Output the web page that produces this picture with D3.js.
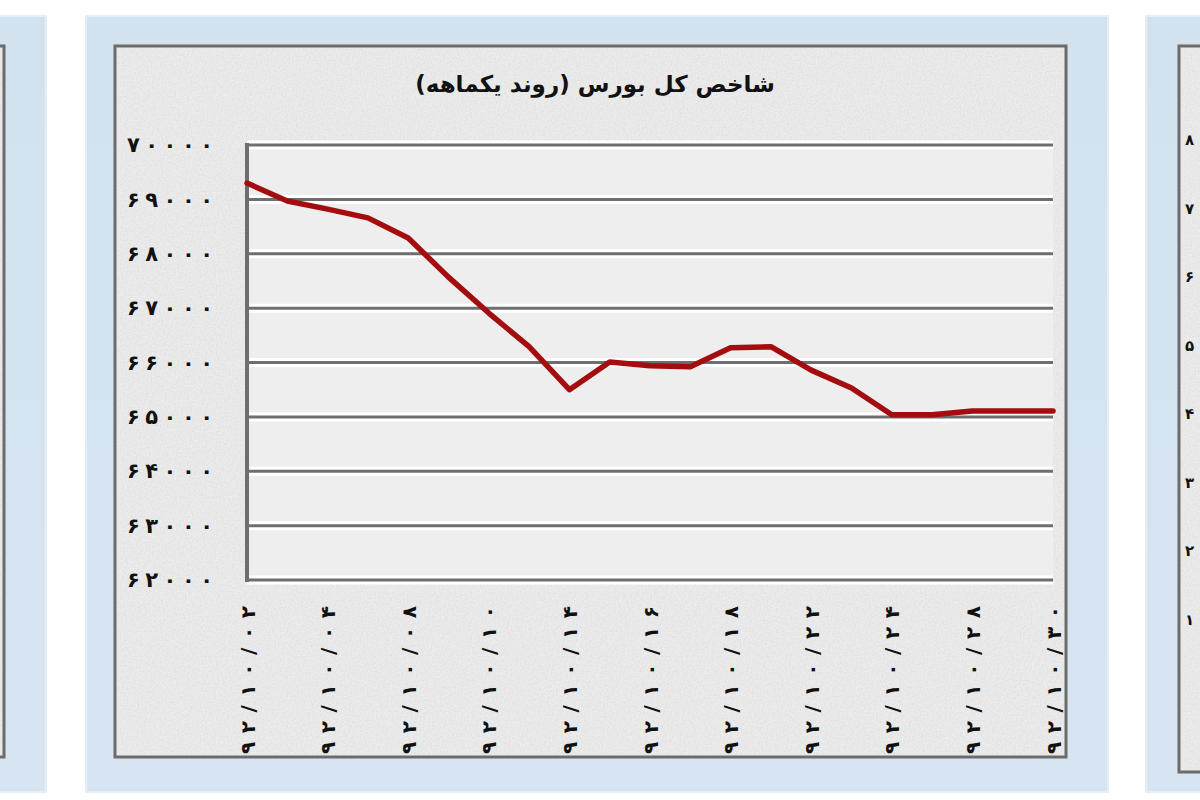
<!DOCTYPE html>
<html>
<head>
<meta charset="utf-8">
<script src="https://cdn.jsdelivr.net/npm/d3@7"></script>
<style>
  html, body { margin: 0; padding: 0; background: #ffffff; }
  svg { display: block; }
</style>
</head>
<body>
<svg id="chart" width="1200" height="800"></svg>
<script>
// ---- data ----
const title = "شاخص کل بورس (روند یکماهه)";
const categories = [
  "۹۲/۱۰/۰۲", "۹۲/۱۰/۰۳", "۹۲/۱۰/۰۴", "۹۲/۱۰/۰۷", "۹۲/۱۰/۰۸", "۹۲/۱۰/۰۹", "۹۲/۱۰/۱۰",
  "۹۲/۱۰/۱۱", "۹۲/۱۰/۱۴", "۹۲/۱۰/۱۵", "۹۲/۱۰/۱۶", "۹۲/۱۰/۱۷", "۹۲/۱۰/۱۸", "۹۲/۱۰/۲۱",
  "۹۲/۱۰/۲۲", "۹۲/۱۰/۲۳", "۹۲/۱۰/۲۴", "۹۲/۱۰/۲۵", "۹۲/۱۰/۲۸", "۹۲/۱۰/۲۹", "۹۲/۱۰/۳۰"
];
const indexValues = [
  69300, 68970, 68820, 68660, 68290, 67570, 66910,
  66290, 65500, 66010, 65940, 65920, 66270, 66290,
  65860, 65530, 65040, 65040, 65110, 65110, 65110
];
const xTickLabels = [
  "۹۲/۱۰/۰۲", "۹۲/۱۰/۰۴", "۹۲/۱۰/۰۸", "۹۲/۱۰/۱۰", "۹۲/۱۰/۱۴", "۹۲/۱۰/۱۶",
  "۹۲/۱۰/۱۸", "۹۲/۱۰/۲۲", "۹۲/۱۰/۲۴", "۹۲/۱۰/۲۸", "۹۲/۱۰/۳۰"
];
const yTicks = [70000, 69000, 68000, 67000, 66000, 65000, 64000, 63000, 62000];
const yTickLabels = ["۷۰۰۰۰", "۶۹۰۰۰", "۶۸۰۰۰", "۶۷۰۰۰", "۶۶۰۰۰", "۶۵۰۰۰", "۶۴۰۰۰", "۶۳۰۰۰", "۶۲۰۰۰"];
// neighbouring (cut-off) panel on the right: first visible digit of its labels
const rightPanelLabels = ["۸", "۷", "۶", "۵", "۴", "۳", "۲", "۱"];

// ---- drawing ----
const svg = d3.select("#chart");
const FONT = "'DejaVu Sans', sans-serif";

const defs = svg.append("defs");
const noise = defs.append("filter").attr("id", "grain").attr("x", 0).attr("y", 0).attr("width", 1).attr("height", 1);
noise.append("feTurbulence").attr("type", "fractalNoise").attr("baseFrequency", 0.55).attr("numOctaves", 2).attr("seed", 4).attr("result", "t");
noise.append("feColorMatrix").attr("in", "t").attr("type", "matrix")
  .attr("values", "0 0 0 0 0.55  0 0 0 0 0.55  0 0 0 0 0.55  0 0 0 -1.6 1.05").attr("result", "n");
noise.append("feComposite").attr("in", "n").attr("in2", "SourceGraphic").attr("operator", "in");

const blueGrad = defs.append("linearGradient").attr("id", "blueFrame").attr("x1", 0).attr("x2", 0).attr("y1", 0).attr("y2", 1);
blueGrad.append("stop").attr("offset", "0%").attr("stop-color", "#d3e2ef");
blueGrad.append("stop").attr("offset", "100%").attr("stop-color", "#d6e5f1");

function panel(x0, x1, y0, y1, ix0, ix1, iy0, iy1) {
  svg.append("rect").attr("x", x0).attr("y", y0).attr("width", x1 - x0).attr("height", y1 - y0)
    .attr("fill", "url(#blueFrame)").attr("stroke", "#e4eef6").attr("stroke-width", 2);
  svg.append("rect").attr("x", ix0).attr("y", iy0).attr("width", ix1 - ix0).attr("height", iy1 - iy0)
    .attr("fill", "#ececec").attr("stroke", "#6b6b6b").attr("stroke-width", 3);
  svg.append("rect").attr("x", ix0 + 2).attr("y", iy0 + 2).attr("width", ix1 - ix0 - 4).attr("height", iy1 - iy0 - 4)
    .attr("fill", "#ffffff").attr("filter", "url(#grain)").attr("opacity", 0.35);
}

// left (cut-off) panel
panel(-60, 46, 16, 792, -100, 4, 46, 757);
// right (cut-off) panel
panel(1146, 1300, 16, 792, 1179, 1400, 46, 772);
svg.append("g").selectAll("text").data(rightPanelLabels).join("text")
  .attr("x", 1185).attr("y", (d, i) => 140 + i * 68.5).attr("dy", "0.35em")
  .attr("font-family", FONT).attr("font-weight", "bold").attr("font-size", 15)
  .attr("fill", "#111").text(d => d);
// main panel
panel(86, 1108, 16, 792, 115, 1066, 46, 757);

const margin = { left: 247, right: 1053, top: 145, bottom: 580 };
const x = d3.scalePoint().domain(categories).range([margin.left, margin.right]);
const y = d3.scaleLinear().domain([62000, 70000]).range([margin.bottom, margin.top]);

// plot area background
svg.append("rect").attr("x", margin.left).attr("y", margin.top)
  .attr("width", margin.right - margin.left).attr("height", margin.bottom - margin.top)
  .attr("fill", "#eeeeee");

// grid lines (white halo + gray line)
const grid = svg.append("g");
grid.selectAll("line.halo").data(yTicks).join("line").attr("class", "halo")
  .attr("x1", margin.left).attr("x2", margin.right)
  .attr("y1", d => y(d)).attr("y2", d => y(d))
  .attr("stroke", "#ffffff").attr("stroke-width", 9);
grid.selectAll("line.g").data(yTicks).join("line").attr("class", "g")
  .attr("x1", margin.left).attr("x2", margin.right)
  .attr("y1", d => y(d)).attr("y2", d => y(d))
  .attr("stroke", "#6e6e6e").attr("stroke-width", 3);

// y axis
const yAxis = d3.axisLeft(y).tickValues(yTicks).tickSize(0).tickPadding(34)
  .tickFormat(d => yTickLabels[yTicks.indexOf(d)]);
const gy = svg.append("g").attr("transform", `translate(${margin.left},0)`).call(yAxis);
gy.select(".domain").attr("stroke", "#6e6e6e").attr("stroke-width", 4)
  .attr("d", `M0,${margin.top - 2}V${margin.bottom + 2}`);
gy.selectAll("text").attr("font-family", FONT).attr("font-weight", "bold")
  .attr("font-size", 21).attr("fill", "#111")
  .attr("textLength", 86).attr("lengthAdjust", "spacing");

// x axis
const xAxis = d3.axisBottom(x).tickValues(xTickLabels).tickSize(0).tickPadding(0);
const gx = svg.append("g").attr("transform", `translate(0,${margin.bottom})`).call(xAxis);
gx.select(".domain").remove();
gx.selectAll("text")
  .attr("font-family", FONT).attr("font-weight", "bold").attr("font-size", 20)
  .attr("fill", "#111")
  .attr("transform", "rotate(-90)")
  .attr("text-anchor", "start")
  .attr("x", -174).attr("y", 0).attr("dy", "0.35em")
  .attr("textLength", 148).attr("lengthAdjust", "spacing");

// line
const line = d3.line().x((d, i) => x(categories[i])).y(d => y(d));
svg.append("path").datum(indexValues)
  .attr("d", line).attr("fill", "none")
  .attr("stroke", "#a30d0f").attr("stroke-width", 5.5)
  .attr("stroke-linejoin", "round").attr("stroke-linecap", "round");

// title
svg.append("text").attr("x", 595).attr("y", 92).attr("text-anchor", "middle")
  .attr("direction", "rtl")
  .attr("font-family", FONT).attr("font-weight", "bold").attr("font-size", 23)
  .attr("fill", "#111").text(title);
</script>
</body>
</html>
